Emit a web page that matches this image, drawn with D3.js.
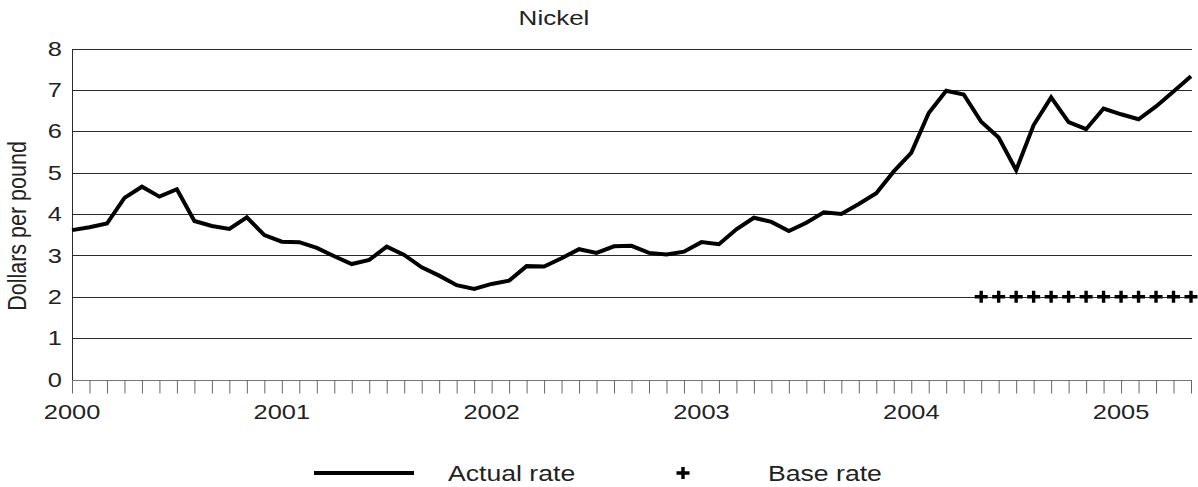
<!DOCTYPE html>
<html>
<head>
<meta charset="utf-8">
<script src="https://cdn.jsdelivr.net/npm/d3@7"></script>
<style>
  html, body { margin: 0; padding: 0; background: #fff; }
  svg { display: block; }
  text { font-family: "Liberation Sans", Arial, sans-serif; fill: #222; }
</style>
</head>
<body>
<svg id="chart" width="1198" height="487"></svg>
<script>
// Monthly index: 0 = Jan 2000 ... 64 = May 2005
const months = d3.range(0, 65);
const actualRate = [
  3.61, 3.68, 3.77, 4.39, 4.66, 4.42, 4.60, 3.83, 3.71, 3.64, 3.92, 3.49,
  3.33, 3.32, 3.18, 2.98, 2.79, 2.89, 3.21, 3.01, 2.71, 2.51, 2.28, 2.19,
  2.31, 2.39, 2.74, 2.73, 2.93, 3.15, 3.06, 3.22, 3.23, 3.06, 3.02, 3.09,
  3.32, 3.27, 3.63, 3.91, 3.81, 3.59, 3.79, 4.04, 4.00, 4.24, 4.50, 5.03,
  5.48, 6.44, 6.98, 6.89, 6.23, 5.85, 5.06, 6.15, 6.82, 6.22, 6.05, 6.55,
  6.41, 6.29, 6.60, 6.96, 7.33
];
const baseMonths = d3.range(52, 65);
const baseRate = baseMonths.map(() => 2.0);
const yearTicks = [0, 12, 24, 36, 48, 60];
const yearLabels = ["2000", "2001", "2002", "2003", "2004", "2005"];
const yTicks = [0, 1, 2, 3, 4, 5, 6, 7, 8];
const title = "Nickel";
const yTitle = "Dollars per pound";
const legendLabels = ["Actual rate", "Base rate"];

const SX = 1.21; // horizontal stretch of lettering
const svg = d3.select("#chart");
const x = d3.scaleLinear().domain([0, 64]).range([72, 1191]);
const y = d3.scaleLinear().domain([0, 8]).range([379.5, 48.5]);

function label(sel, px, py, txt, size, anchor, sx) {
  return sel.append("text")
    .attr("transform", `translate(${px},${py}) scale(${sx || SX},1)`)
    .attr("text-anchor", anchor || "start")
    .style("font-size", size + "px")
    .text(txt);
}

// gridlines
svg.append("g")
  .selectAll("line")
  .data(yTicks.filter(d => d > 0))
  .join("line")
  .attr("x1", x(0)).attr("x2", x(64) + 1)
  .attr("y1", d => Math.round(y(d)) + 0.5).attr("y2", d => Math.round(y(d)) + 0.5)
  .attr("stroke", "#2a2a2a").attr("stroke-width", 1);

// y axis
const yAxis = svg.append("g")
  .attr("transform", `translate(${x(0)},0)`)
  .call(d3.axisLeft(y).tickValues(yTicks).tickSize(0).tickPadding(8.3).tickFormat(d3.format("d")));
yAxis.select(".domain").attr("stroke", "#2a2a2a");
yAxis.selectAll("text")
  .style("font-size", "21px")
  .attr("fill", "#222")
  .attr("transform", `scale(${SX},1)`);

// x axis
const xAxis = svg.append("g")
  .attr("transform", `translate(0,${Math.round(y(0)) + 0.5})`)
  .call(d3.axisBottom(x).tickValues(months).tickSize(13).tickFormat(() => ""));
xAxis.select(".domain").attr("stroke", "#777").attr("d", `M${x(0)},0H${x(64) + 1}`);
xAxis.selectAll(".tick line").attr("stroke", "#666");

const yearG = svg.append("g");
yearTicks.forEach((m, i) => label(yearG, x(m), 419, yearLabels[i], 21, "middle"));

// actual rate line
const line = d3.line().x((d, i) => x(months[i])).y(d => y(d));
svg.append("path")
  .datum(actualRate)
  .attr("d", line)
  .attr("fill", "none")
  .attr("stroke", "#000")
  .attr("stroke-width", 4)
  .attr("stroke-linejoin", "miter");

// base rate markers
svg.append("g")
  .selectAll("path")
  .data(baseRate)
  .join("path")
  .attr("d", (d, i) => `M${x(baseMonths[i]) - 6.5},${y(d)}H${x(baseMonths[i]) + 6.5}M${x(baseMonths[i])},${y(d) - 6}V${y(d) + 6}`)
  .attr("stroke", "#000")
  .attr("stroke-width", 3.4)
  .attr("fill", "none");

// title
label(svg, 554, 25, title, 20, "middle", 1.3);

// y title
svg.append("text")
  .attr("transform", `translate(26,226) scale(${SX},1) rotate(-90)`)
  .attr("text-anchor", "middle")
  .style("font-size", "21.5px")
  .text(yTitle);

// legend
const lg = svg.append("g");
lg.append("line")
  .attr("x1", 314).attr("x2", 414).attr("y1", 473).attr("y2", 473)
  .attr("stroke", "#000").attr("stroke-width", 4);
label(lg, 448, 481, legendLabels[0], 22);
lg.append("path")
  .attr("d", "M676.5,473H689.5M683,467V479")
  .attr("stroke", "#000").attr("stroke-width", 3.4);
label(lg, 768, 481, legendLabels[1], 22);
</script>
</body>
</html>
